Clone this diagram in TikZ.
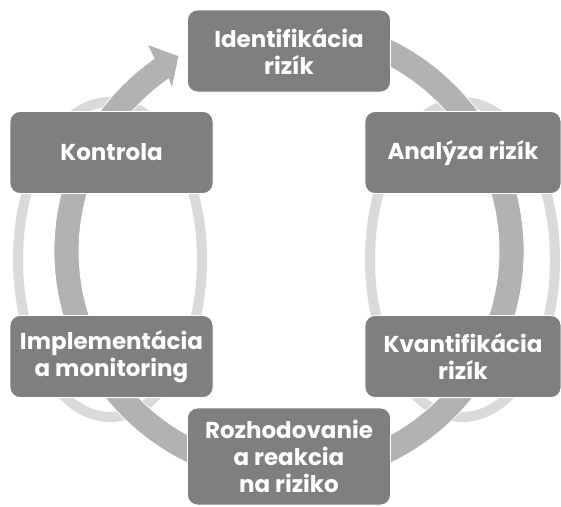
\documentclass[tikz,border=0pt]{standalone}
\usepackage{fontspec}
\setmainfont{Poppins}
\definecolor{boxgray}{RGB}{127,127,127}
\definecolor{ringgray}{RGB}{178,178,178}
\definecolor{loopgray}{RGB}{218,218,218}
\tikzset{
  stepbox/.style={rectangle, rounded corners=10pt, fill=boxgray, draw=white, line width=0.8pt,
    text=white, font=\fontsize{23}{27}\selectfont\bfseries, align=center,
    minimum width=203pt, minimum height=82pt, inner sep=2pt},
  loopline/.style={draw=loopgray, line width=10pt},
}
\begin{document}
\begin{tikzpicture}[x=1pt, y=1pt]
    \useasboundingbox (0,0) rectangle (561,-506);
    \clip (0,0) rectangle (561,-506);

    % Light loops behind the side steps
    \draw[loopline] (110,-259.5) ellipse [x radius=92, y radius=157.5];
    \draw[loopline] (462.5,-259.5) ellipse [x radius=92.5, y radius=157.5];

    % Circular arrow
    \begin{scope}[shift={(289,-251)}]
        \fill[ringgray, draw=white, line width=0.8pt] (100:235) arc[start angle=100, end angle=-235, radius=235]
            -- (-235.5:251) -- (-240.6:224) -- (-234.2:200) -- (-235:210)
            arc[start angle=-235, end angle=100, radius=210] -- cycle;
    \end{scope}

    % Steps
    \node[stepbox] (iden) at (289,-51) {Identifikácia\\rizík};
    \node[stepbox, minimum width=196pt] (analyza) at (463,-152.5) {Analýza rizík};
    \node[stepbox, minimum width=196pt] (kvant) at (463,-356.5) {Kvantifikácia\\rizík};
    \node[stepbox, minimum height=97pt] (rozh) at (289,-456.5) {Rozhodovanie\\a reakcia\\na riziko};
    \node[stepbox] (impl) at (111.5,-356.5) {Implementácia\\a monitoring};
    \node[stepbox] (kontrola) at (111.5,-152.5) {Kontrola};
\end{tikzpicture}
\end{document}
